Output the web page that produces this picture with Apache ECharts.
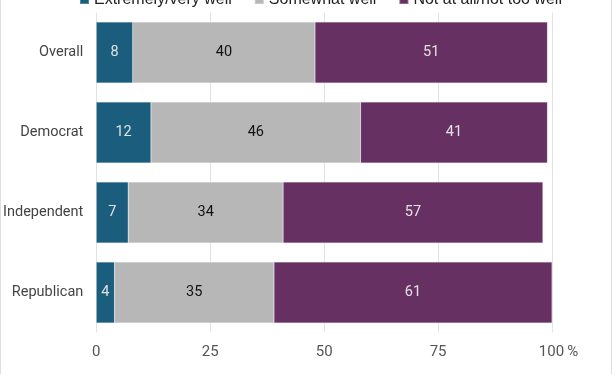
<!DOCTYPE html>
<html><head><meta charset="utf-8">
<script src="https://cdn.jsdelivr.net/npm/echarts@6/dist/echarts.min.js"></script>
<style>html,body{margin:0;padding:0;background:#fff}#c{width:612px;height:374px}</style>
</head><body><div id="c"></div>
<script>
var categories = ['Overall', 'Democrat', 'Independent', 'Republican'];
var seriesNames = ['Extremely/very well', 'Somewhat well', 'Not at all/not too well'];
var extremelyVeryWell = [8, 12, 7, 4];
var somewhatWell = [40, 46, 34, 35];
var notAtAllNotTooWell = [51, 41, 57, 61];
var xTicks = [0, 25, 50, 75, 100];

var colors = ['#1b5d7c', '#b7b7b7', '#663062'];
var labelColors = ['#e2e2e2', '#111', '#e2e2e2'];
var values = [extremelyVeryWell, somewhatWell, notAtAllNotTooWell];

var chart = echarts.init(document.getElementById('c'));
chart.setOption({
  animation: false,
  textStyle: { fontFamily: 'Roboto' },
  graphic: [
    { type: 'rect', shape: { x: 0.5, y: -1, width: 611, height: 376 }, style: { fill: 'none', stroke: '#dedede', lineWidth: 1 }, silent: true }
  ],
  legend: {
    top: -8.5, left: 79, padding: 0, itemWidth: 9, itemHeight: 9, itemGap: 22,
    icon: 'rect',
    textStyle: { fontSize: 16, color: '#222', fontFamily: 'Liberation Sans' },
    data: seriesNames
  },
  grid: { left: 95, right: 60, top: 12.5, bottom: 41.5, containLabel: false },
  xAxis: {
    type: 'value', min: 0, max: 100, interval: 25,
    axisLine: { show: false }, axisTick: { show: false },
    splitLine: { show: true, lineStyle: { color: '#e2e2e2', width: 1 } },
    axisLabel: {
      margin: 12, color: '#555', fontSize: 15,
      formatter: function (v) { return v === 100 ? '{s|}{a|100}{p|%}' : String(v); },
      rich: { s: { width: 13 }, a: { fontSize: 15, color: '#555' }, p: { fontSize: 15, color: '#555', padding: [0, 0, 0, 3] } }
    }
  },
  yAxis: {
    type: 'category', data: categories, inverse: true,
    axisLine: { show: false }, axisTick: { show: false },
    axisLabel: { margin: 13, color: '#444', fontSize: 14.5 }
  },
  series: values.map(function (arr, i) {
    return {
      name: seriesNames[i], type: 'bar', stack: 'total', data: arr,
      barCategoryGap: '24%',
      itemStyle: { color: colors[i], borderColor: 'rgba(255,255,255,0.25)', borderWidth: 0.5 },
      label: { show: true, position: 'inside', color: labelColors[i], fontSize: 14.5, fontFamily: 'Roboto' }
    };
  })
});
</script></body></html>
